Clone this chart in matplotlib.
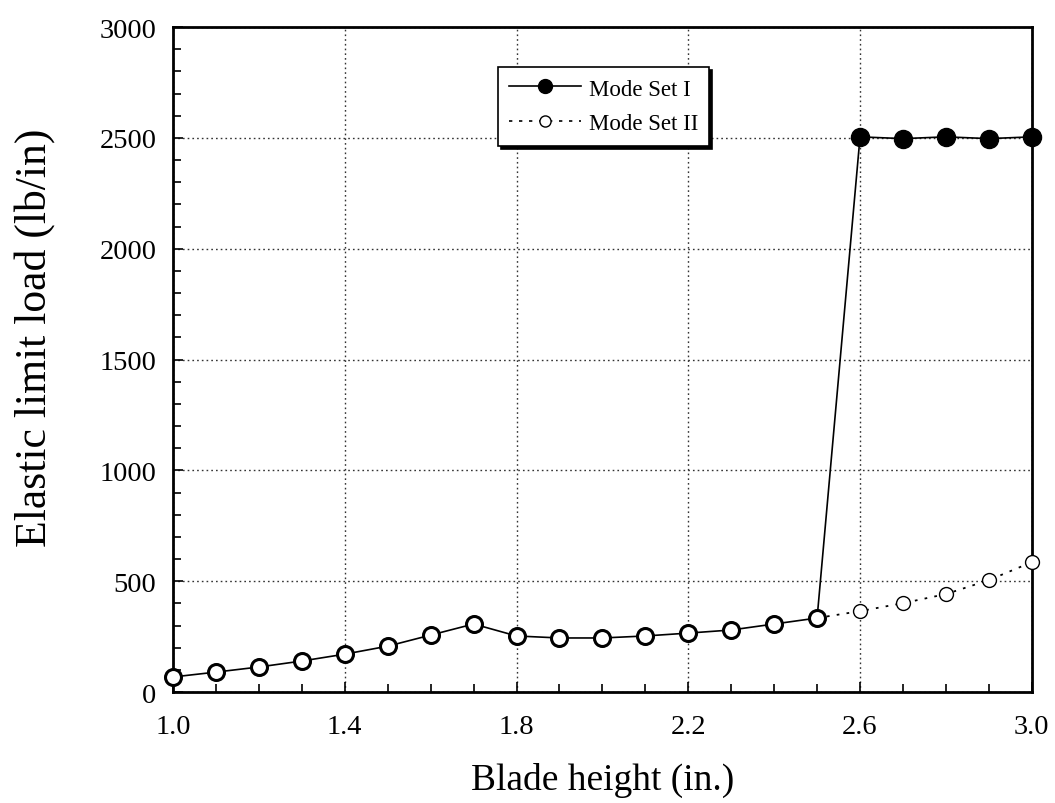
import matplotlib
matplotlib.use("Agg")
import matplotlib.pyplot as plt
from matplotlib.lines import Line2D
from matplotlib.ticker import MultipleLocator, FixedLocator

plt.rcParams['font.family'] = ['Liberation Serif', 'DejaVu Serif']

blade_height = [1.0, 1.1, 1.2, 1.3, 1.4, 1.5, 1.6, 1.7, 1.8, 1.9, 2.0,
                2.1, 2.2, 2.3, 2.4, 2.5, 2.6, 2.7, 2.8, 2.9, 3.0]
mode_set_1 = [68, 90, 113, 140, 171, 207, 257, 307, 253, 244, 244,
              253, 266, 280, 307, 334, 2505, 2497, 2505, 2497, 2505]
mode_set_2 = [68, 90, 113, 140, 171, 207, 257, 307, 253, 244, 244,
              253, 266, 280, 307, 334, 365, 401, 442, 505, 586]
x_ticks = [1.0, 1.4, 1.8, 2.2, 2.6, 3.0]
n_shared = 16  # points where both mode sets give the same load

fig = plt.figure(figsize=(10.55, 8.04), dpi=100)
ax = fig.add_axes([0.164, 0.138, 0.814, 0.827])

ax.set_xlim(1.0, 3.0)
ax.set_ylim(0, 3000)
ax.xaxis.set_major_locator(FixedLocator(x_ticks))
ax.xaxis.set_minor_locator(MultipleLocator(0.1))
ax.yaxis.set_major_locator(MultipleLocator(500))
ax.yaxis.set_minor_locator(MultipleLocator(100))
ax.xaxis.set_major_formatter(plt.FormatStrFormatter('%.1f'))
ax.grid(True, which='major', linestyle=(0, (1.2, 2.2)), color='#333333', linewidth=1.0)

# Mode Set II: dotted line, open circles beyond the shared range
ax.plot(blade_height[n_shared - 1:], mode_set_2[n_shared - 1:], linestyle=(0, (1.5, 4)),
        color='k', linewidth=1.3, zorder=3)
ax.plot(blade_height[n_shared:], mode_set_2[n_shared:], 'o', ms=10, mfc='white',
        mec='k', mew=1.0, zorder=4, clip_on=False)

# Mode Set I: solid line
ax.plot(blade_height, mode_set_1, '-', color='k', linewidth=1.2, zorder=3)
ax.plot(blade_height[n_shared:], mode_set_1[n_shared:], 'o', ms=13, mfc='k',
        mec='k', zorder=5, clip_on=False)
# shared points of both sets
ax.plot(blade_height[:n_shared], mode_set_1[:n_shared], 'o', ms=11.5, mfc='white',
        mec='k', mew=2.2, zorder=5, clip_on=False)

for s in ax.spines.values():
    s.set_linewidth(2.0)
ax.tick_params(which='both', direction='in', top=False, right=False, width=1.2,
               labelsize=20.5)
ax.tick_params(which='major', length=7)
ax.tick_params(which='minor', length=6)
ax.tick_params(axis='y', pad=12)
ax.tick_params(axis='x', pad=16)

ax.set_xlabel('Blade height (in.)', fontsize=27, labelpad=16)
ax.set_ylabel('Elastic limit load (lb/in)', fontsize=31.5)
ax.yaxis.set_label_coords(-0.137, 0.534)

handles = [
    Line2D([], [], color='k', linewidth=1.2, marker='o', ms=10, mfc='k'),
    Line2D([], [], color='k', linewidth=1.2, linestyle=(0, (2, 4)), marker='o',
           ms=8, mfc='white', mew=1.0),
]
leg = ax.legend(handles, ['Mode Set I', 'Mode Set II'], loc='upper left',
                bbox_to_anchor=(498 / 1055, 1 - 68 / 804), bbox_transform=fig.transFigure,
                fontsize=16.5, handlelength=3.1, fancybox=False, shadow={'color': 'k', 'alpha': 1},
                framealpha=1, edgecolor='k', borderpad=0.5, labelspacing=0.6,
                handletextpad=0.35, borderaxespad=0)
leg.get_frame().set_linewidth(1.2)

fig.savefig('out.png', dpi=100)
